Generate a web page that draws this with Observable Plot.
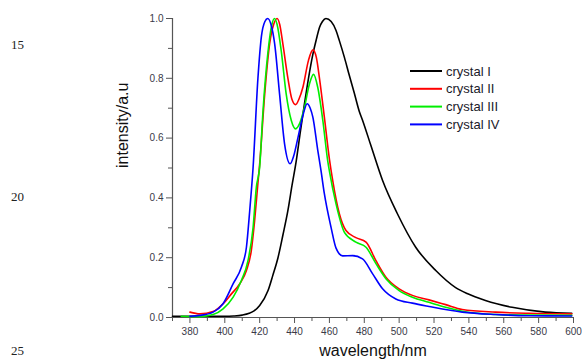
<!DOCTYPE html>
<html>
<head>
<meta charset="utf-8">
<script src="https://cdn.jsdelivr.net/npm/d3@7"></script>
<script src="https://cdn.jsdelivr.net/npm/@observablehq/plot@0.6"></script>
<style>
  html, body { margin: 0; padding: 0; background: white; }
  #wrap { position: relative; width: 582px; height: 364px; }
  #overlay { position: absolute; left: 0; top: 0; pointer-events: none; }
</style>
</head>
<body>
<div id="wrap"></div>
<script>
// ---- data ----
const seriesNames = ["crystal I", "crystal II", "crystal III", "crystal IV"];
const seriesColors = ["#000000", "#ff0000", "#00ee00", "#0000ff"];

const crystalI_nm  = [370,380,390,400,405,410,414,417,420,424.8,427.5,430.5,433.3,436.2,438.5,441,443.3,445.7,448,450.5,452.5,454.3,456,458,461,463.8,465.7,468.6,471.4,474.3,477.1,479,483.8,490.5,499,509.5,521,532.4,539,549.5,564.8,583.8,599];
const crystalI_int = [0.004,0.004,0.004,0.004,0.005,0.008,0.014,0.023,0.04,0.09,0.14,0.20,0.275,0.358,0.44,0.525,0.62,0.715,0.80,0.88,0.93,0.97,0.99,1.0,0.99,0.96,0.926,0.87,0.81,0.75,0.69,0.66,0.575,0.458,0.347,0.235,0.157,0.10,0.08,0.057,0.034,0.018,0.014];

const crystalII_nm  = [380,385.7,393.3,399,403.8,408.6,412.4,415.2,417.1,419,420,422.9,425.7,428,430,431.5,433.3,436.2,438.5,440.6,442.5,444.8,448,450.5,452.5,454.3,457.1,460,461.9,465.7,469.5,475.2,481,486.7,492.4,500,507.6,517.1,526.7,536.2,555.2,574.3,599];
const crystalII_int = [0.018,0.012,0.02,0.046,0.079,0.113,0.157,0.224,0.324,0.45,0.514,0.748,0.915,0.98,1.0,0.98,0.915,0.80,0.73,0.712,0.73,0.77,0.86,0.895,0.87,0.80,0.67,0.53,0.458,0.347,0.291,0.267,0.252,0.19,0.135,0.096,0.074,0.059,0.043,0.027,0.018,0.014,0.012];

const crystalIII_nm  = [375,385.7,393.3,399,404.8,409.5,413.3,416.2,418.1,420,421.9,424.8,427,428.5,430,432.4,435.2,438.1,440.6,443,445.7,448.5,450.9,453.3,456.2,459,460,463.8,468.6,475.2,481,486.7,492.4,500,507.6,517.1,526.7,536.2,555.2,574,599];
const crystalIII_int = [0.004,0.003,0.01,0.029,0.068,0.124,0.19,0.30,0.436,0.503,0.69,0.89,0.98,1.0,0.98,0.89,0.748,0.66,0.631,0.65,0.703,0.78,0.813,0.77,0.66,0.525,0.49,0.38,0.285,0.252,0.235,0.18,0.13,0.09,0.068,0.051,0.034,0.021,0.01,0.008,0.007];

const crystalIV_nm  = [380,385.7,393.3,399,404.8,409.5,412.4,414.3,416.2,419,421,423,424.6,426.5,428.6,431.4,434.3,437.5,439.5,441.9,445,447.2,449,450.5,453.3,455.2,457.1,461,463.8,467.6,473.3,479,484.8,490.5,498.1,507.6,517.1,536.2,555.2,574.3,599];
const crystalIV_int = [0.004,0.007,0.018,0.046,0.113,0.168,0.235,0.358,0.50,0.80,0.94,0.99,1.0,0.98,0.915,0.748,0.58,0.514,0.54,0.60,0.68,0.715,0.70,0.67,0.56,0.49,0.414,0.30,0.232,0.206,0.207,0.196,0.146,0.096,0.062,0.048,0.037,0.018,0.01,0.006,0.005];

const xDomain = [370, 600];
const yDomain = [0, 1];
const xMajorTicks = [380,400,420,440,460,480,500,520,540,560,580,600];
const xMinorTicks = [370,390,410,430,450,470,490,510,530,550,570,590];
const yMajorTicks = [0.0,0.2,0.4,0.6,0.8,1.0];
const yMinorTicks = [0.1,0.3,0.5,0.7,0.9];
const xLabel = "wavelength/nm";
const yLabel = "intensity/a.u";
const lineNumbers = ["15", "20", "25"];

// ---- build table ----
const seriesX = [crystalI_nm, crystalII_nm, crystalIII_nm, crystalIV_nm];
const seriesY = [crystalI_int, crystalII_int, crystalIII_int, crystalIV_int];
const rows = [];
seriesNames.forEach((name, i) => {
  seriesX[i].forEach((x, j) => rows.push({series: name, nm: x, value: seriesY[i][j]}));
});

const axisColor = "#555";
const font = "Arial, 'Liberation Sans', Helvetica, sans-serif";

const chart = Plot.plot({
  width: 582,
  height: 364,
  marginLeft: 172,
  marginRight: 9,
  marginTop: 18,
  marginBottom: 47,
  style: {fontFamily: font, background: "white", overflow: "visible"},
  x: {domain: xDomain},
  y: {domain: yDomain},
  color: {domain: seriesNames, range: seriesColors},
  marks: [
    Plot.axisY({ticks: yMajorTicks, tickSize: 6, tickPadding: 3, tickFormat: d => d.toFixed(1), fontSize: 10, color: "#3a3a48", stroke: axisColor, label: null}),
    Plot.axisY({ticks: yMinorTicks, tickSize: 4, text: null, stroke: axisColor, label: null}),
    Plot.axisX({ticks: xMajorTicks, tickSize: 6, tickPadding: 4, tickFormat: d => String(d), fontSize: 10, color: "#3a3a48", stroke: axisColor, label: null}),
    Plot.axisX({ticks: xMinorTicks, tickSize: 4, text: null, stroke: axisColor, label: null}),
    Plot.ruleX([xDomain[0]], {stroke: axisColor, strokeWidth: 1.2}),
    Plot.ruleY([yDomain[0]], {stroke: axisColor, strokeWidth: 1.2}),
    Plot.line(rows, {x: "nm", y: "value", z: "series", stroke: "series", strokeWidth: 1.6, curve: "monotone-x"}),
    Plot.text([yLabel], {frameAnchor: "left", dx: -50, rotate: -90, fontSize: 16, fill: "#111", fontFamily: font}),
    Plot.text([xLabel], {frameAnchor: "bottom", dy: 38, fontSize: 16, fill: "#111", fontFamily: font})
  ]
});

const wrap = document.getElementById("wrap");
wrap.appendChild(chart);

// ---- overlay: legend and margin line numbers ----
const overlay = d3.select(wrap).append("svg")
  .attr("id", "overlay")
  .attr("width", 582).attr("height", 364);

const leg = overlay.append("g").attr("transform", "translate(410,71)");
seriesNames.forEach((name, i) => {
  const g = leg.append("g").attr("transform", `translate(0,${i * 17.8})`);
  g.append("line").attr("x1", 0).attr("x2", 32).attr("y1", 0).attr("y2", 0)
    .attr("stroke", seriesColors[i]).attr("stroke-width", 2);
  g.append("text").attr("x", 36).attr("y", 0).attr("dy", "0.35em")
    .attr("font-family", font).attr("font-size", 13).attr("fill", "#1a1a2a")
    .text(name);
});

const lineNumY = [44, 196, 350];
lineNumbers.forEach((t, i) => {
  overlay.append("text").attr("x", 11).attr("y", lineNumY[i]).attr("dy", "0.35em")
    .attr("font-family", "'Liberation Serif', 'Times New Roman', serif")
    .attr("font-size", 13).attr("fill", "#222").text(t);
});
</script>
</body>
</html>
